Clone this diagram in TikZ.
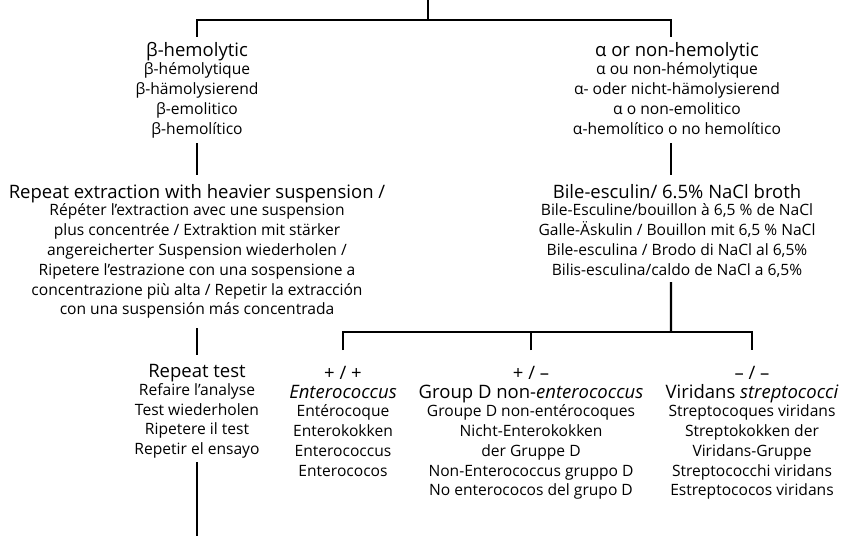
\documentclass[tikz,border=0pt]{standalone}
\usepackage{fontspec}
\setmainfont{Open Sans}
\newcommand{\mf}{\fontsize{18.5bp}{19.8bp}\selectfont}
\newcommand{\sfz}{\fontsize{15.6bp}{19.8bp}\selectfont}
\newcommand{\tp}[1]{\rule{0pt}{#1bp}}
\newcommand{\bt}[1]{\rule[-#1bp]{0pt}{#1bp}}
\tikzset{
  blk/.style={align=center, inner sep=0pt, outer sep=0pt, font=\sfz, anchor=north},
  ln/.style={line width=2.2bp, black, line join=miter}
}
\begin{document}
\begin{tikzpicture}[x=1bp,y=-1bp]
\useasboundingbox (0,0) rectangle (848,536);
\coordinate (top) at (428,0);
\coordinate (j1) at (428,20);
\coordinate (j2) at (671,332);
\coordinate (bot) at (197,536);

\node[blk] (bh) at (197,37) {\tp{20}{\mf β-hemolytic}\\[-2bp]
  β-hémolytique\\ β-hämolysierend\\ β-emolitico\\ β-hemolítico\bt{9}};
\node[blk] (an) at (677,37) {\tp{20}{\mf α or non-hemolytic}\\[-2bp]
  α ou non-hémolytique\\ α- oder nicht-hämolysierend\\ α o non-emolitico\\
  α-hemolítico o no hemolítico\bt{9}};
\node[blk] (rex) at (197,175) {\tp{23}{\mf Repeat extraction with heavier suspension /}\\[-2bp]
  Répéter l’extraction avec une suspension\\
  plus concentrée / Extraktion mit stärker\\
  angereicherter Suspension wiederholen /\\
  Ripetere l’estrazione con una sospensione a\\
  concentrazione più alta / Repetir la extracción\\
  con una suspensión más concentrada\bt{13.2}};
\node[blk] (be) at (677,175) {\tp{23}{\mf Bile-esculin/ 6.5\% NaCl broth}\\[-2bp]
  Bile-Esculine/bouillon à 6,5 \% de NaCl\\
  Galle-Äskulin / Bouillon mit 6,5 \% NaCl\\
  Bile-esculina / Brodo di NaCl al 6,5\%\\
  Bilis-esculina/caldo de NaCl a 6,5\%\bt{6.8}};
\node[blk] (rt) at (197,355) {\tp{22.5}{\mf Repeat test}\\[-2bp]
  Refaire l’analyse\\ Test wiederholen\\ Ripetere il test\\ Repetir el ensayo\bt{7.3}};
\node[blk] (ent) at (343,350) {\tp{29}{\mf + / +}\\
  {\mf\itshape Enterococcus}\\[-2bp]
  Entérocoque\\ Enterokokken\\ Enterococcus\\ Enterococos};
\node[blk] (gd) at (531,350) {\tp{29}{\mf + / –}\\
  {\mf Group D non-\textit{enterococcus}}\\[-2bp]
  Groupe D non-entérocoques\\ Nicht-Enterokokken\\ der Gruppe D\\
  Non-Enterococcus gruppo D\\ No enterococos del grupo D};
\node[blk] (vs) at (752,350) {\tp{29}{\mf – / –}\\
  {\mf Viridans \textit{streptococci}}\\[-2bp]
  Streptocoques viridans\\ Streptokokken der\\ Viridans-Gruppe\\
  Streptococchi viridans\\ Estreptococos viridans};

\draw[ln] (top) -- (j1);
\draw[ln] (bh.north) |- (j1) -| ([xshift=-6bp]an.north);
\draw[ln] (bh.south) -- (rex.north);
\draw[ln] (rex.south) -- (rt.north);
\draw[ln] (rt.south) -- (bot);
\draw[ln] ([xshift=-6bp]an.south) -- ([xshift=-6bp]be.north);
\draw[ln] ([xshift=-6bp]be.south) -- (j2);
\draw[ln] (ent.north) |- (j2) -| (vs.north);
\draw[ln] (gd.north) -- (gd.north |- j2);
\end{tikzpicture}
\end{document}
